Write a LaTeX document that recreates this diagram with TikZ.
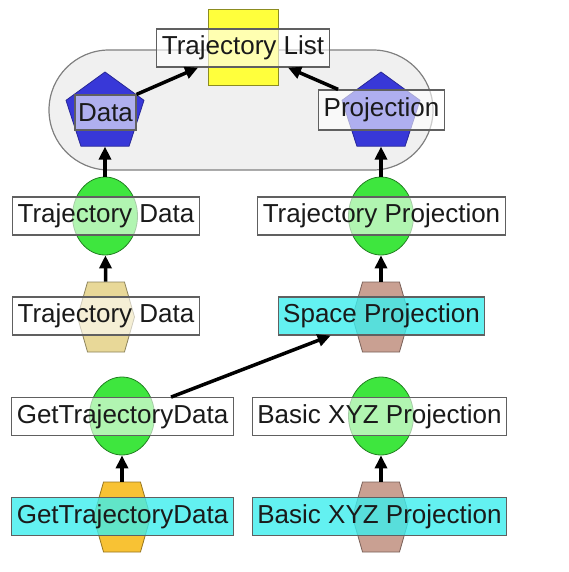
\documentclass[tikz,border=0pt]{standalone}
\usepackage{fontspec}
\setmainfont{Liberation Sans}
\usepackage{tikz}
\usetikzlibrary{positioning,shapes.geometric,shapes.symbols,arrows.meta}

\definecolor{pentblue}{HTML}{3838D8}
\definecolor{ballgreen}{HTML}{3EE63E}
\definecolor{listyellow}{HTML}{FFFF3C}
\definecolor{boxcyan}{HTML}{3CEEEE}
\definecolor{boxgray}{HTML}{606060}
\definecolor{textdark}{HTML}{1A1A1A}
\definecolor{hextan}{HTML}{E8D898}
\definecolor{hexorange}{HTML}{F8C234}
\definecolor{hexrose}{HTML}{C9A092}
\definecolor{groupgray}{HTML}{F0F0F0}

\tikzset{
  lbl/.style={draw=boxgray, line width=1.2pt, rectangle, fill=white, fill opacity=0.6, text opacity=1,
    text=textdark, font=\fontsize{26}{30}\selectfont, inner xsep=5pt, inner ysep=0pt, minimum height=38pt},
  cyanlbl/.style={lbl, fill=boxcyan, fill opacity=0.8},
  pent/.style={regular polygon, regular polygon sides=5, minimum size=82pt, inner sep=0pt,
    fill=pentblue, draw=pentblue!70!black, line width=0.8pt},
  ball/.style={ellipse, minimum width=65pt, minimum height=78pt, inner sep=0pt,
    fill=ballgreen, draw=ballgreen!55!black, line width=0.8pt},
  hex/.style={signal, signal to=east and west, signal pointer angle=148,
    minimum width=57pt, minimum height=70pt, inner sep=0pt, line width=0.8pt},
  arr/.style={-{Triangle[length=13pt,width=12pt]}, line width=3.5pt},
}

\begin{document}
\begin{tikzpicture}[x=1pt, y=-1pt]
  \useasboundingbox (0,0) rectangle (568,572);

  \node (group) [rectangle, rounded corners=60pt, minimum width=384pt, minimum height=120pt,
    fill=groupgray, draw=boxgray!80, line width=1.2pt] at (241,110) {};
  \node (list) [rectangle, minimum width=70pt, minimum height=76pt, fill=listyellow,
    draw=listyellow!55!black, line width=1pt] at (243,48) {};

  \node (pentD) [pent] at (105,113) {};
  \node (pentP) [pent] at (381,113) {};

  \node (ballTD) [ball] at (105,216) {};
  \node (ballTP) [ball] at (381,216) {};
  \node (ballGTD) [ball] at (122,416) {};
  \node (ballBXYZ) [ball] at (381,416) {};

  \node (hexTD) [hex, fill=hextan, draw=hextan!60!black] at (106,317) {};
  \node (hexSP) [hex, fill=hexrose, draw=hexrose!60!black] at (381,317) {};
  \node (hexGTD) [hex, fill=hexorange, draw=hexorange!60!black] at (122,517) {};
  \node (hexBXYZ) [hex, fill=hexrose, draw=hexrose!60!black] at (381,517) {};

  \node (lblList) [lbl] at (243,48) {Trajectory List};
  \node (lblData) [lbl, minimum height=35pt, inner xsep=3pt] at (105.5,112.5) {Data};
  \node (lblProj) [lbl, minimum height=40pt] at (381.5,110) {Projection};
  \node (lblTD1) [lbl] at (106,216) {Trajectory Data};
  \node (lblTP) [lbl] at (381.5,216) {Trajectory Projection};
  \node (lblTD2) [lbl] at (106,316) {Trajectory Data};
  \node (lblSP) [cyanlbl] at (381.5,316) {Space Projection};
  \node (lblGTD1) [lbl] at (122.5,416.5) {GetTrajectoryData};
  \node (lblBXYZ1) [lbl] at (379.5,416.5) {Basic XYZ Projection};
  \node (lblGTD2) [cyanlbl] at (122.5,516.5) {GetTrajectoryData};
  \node (lblBXYZ2) [cyanlbl] at (379.5,516.5) {Basic XYZ Projection};

  \path[arr] (lblData.north east) edge (lblList);
  \path[arr] ([xshift=20pt]lblProj.north west) edge (lblList);
  \path[arr] (ballTD) edge (pentD);
  \path[arr] (ballTP) edge (pentP);
  \path[arr] (hexTD) edge (ballTD);
  \path[arr] (hexSP) edge (ballTP);
  \path[arr, shorten <=19pt] (ballGTD) edge (lblSP);
  \path[arr] (hexGTD) edge (ballGTD);
  \path[arr] (hexBXYZ) edge (ballBXYZ);
\end{tikzpicture}
\end{document}
